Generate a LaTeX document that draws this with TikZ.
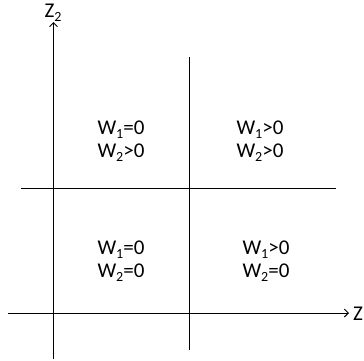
\documentclass[tikz,border=0pt]{standalone}
\usepackage{fontspec}
\setmainfont{Carlito}
\usetikzlibrary{arrows.meta}
\newcommand\mysub[1]{\raisebox{-4.5pt}{\fontsize{14}{14}\selectfont #1}}
\begin{document}
\begin{tikzpicture}[x=1pt,y=-1pt,
  axisline/.style={line width=1pt,black},
  axisarrow/.style={axisline,-{Straight Barb[length=4pt,width=8pt,line width=1pt]}},
  lbl/.style={inner sep=0pt,anchor=base,font=\fontsize{21}{25}\selectfont}]
\useasboundingbox (0,0) rectangle (364,360);
% coordinates
\coordinate (yb) at (53.5,359);
\coordinate (yt) at (53.5,22);
\coordinate (xl) at (8,313);
\coordinate (xr) at (349,313);
\coordinate (mt) at (189.5,57);
\coordinate (mb) at (189.5,350);
\coordinate (hl) at (21,188.5);
\coordinate (hr) at (336,188.5);
% lines
\draw[axisarrow] (yb) -- (yt);
\draw[axisarrow] (xl) -- (xr);
\draw[axisline] (mt) -- (mb);
\draw[axisline] (hl) -- (hr);
% axis labels
\node[lbl] (z2) at (53,17) {Z\mysub{2}};
\node[lbl,anchor=base west] (z1) at (353,320) {Z};
% quadrant labels
\node[lbl] (a1) at (121,134) {W\mysub{1}=0};
\node[lbl] (a2) at (121,157) {W\mysub{2}>0};
\node[lbl] (b1) at (260,134) {W\mysub{1}>0};
\node[lbl] (b2) at (260,157) {W\mysub{2}>0};
\node[lbl] (c1) at (121,254) {W\mysub{1}=0};
\node[lbl] (c2) at (121,277) {W\mysub{2}=0};
\node[lbl] (d1) at (266,254) {W\mysub{1}>0};
\node[lbl] (d2) at (266,277) {W\mysub{2}=0};
\end{tikzpicture}
\end{document}
